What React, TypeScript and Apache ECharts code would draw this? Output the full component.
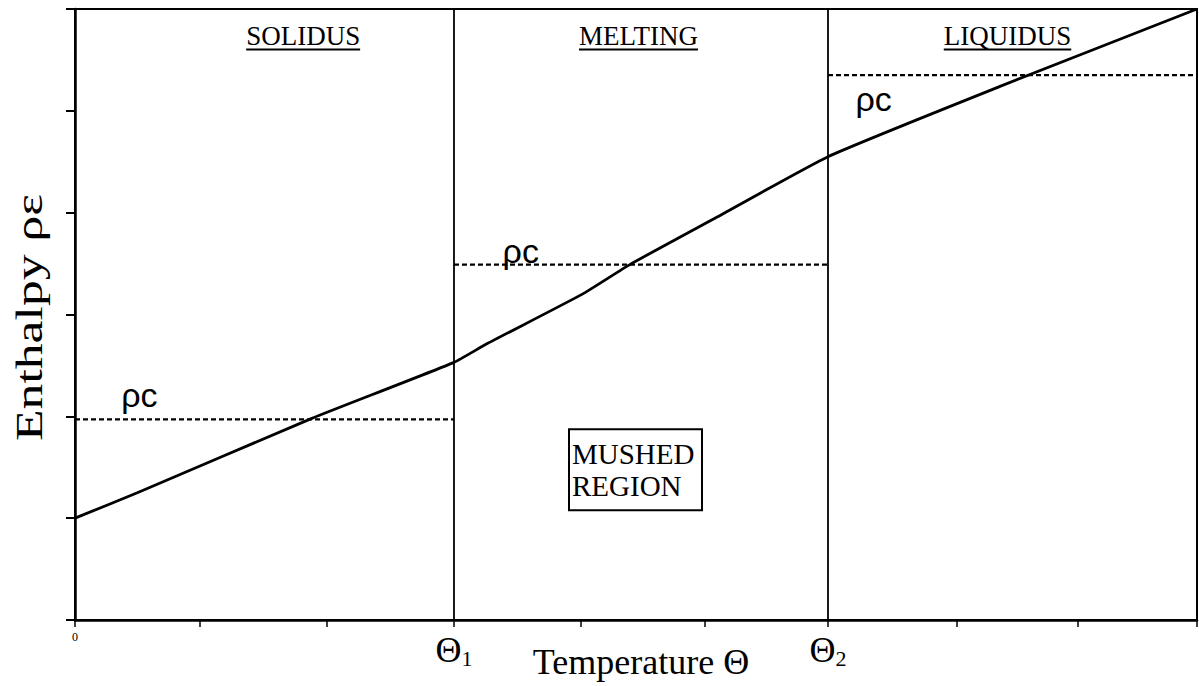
import React, { useEffect, useRef } from "react";
import * as echarts from "echarts";

// Axes (data units)
const xMin = 0, xMax = 9, yMin = 0, yMax = 6;
const theta1 = 3.04, theta2 = 6.04;
const xTickValues = [0, 1, 2.02, theta1, 4.06, 5.05, theta2, 7.07, 8.04, 9];
const xLabelValues = [0, theta1, theta2];
const xLabelTexts = ["{z|0}", "{t|Θ}{s|1}", "{t|Θ}{s|2}"];
const xAxisTitle = "Temperature Θ";
const yAxisTitle = "Enthalpy ρε";

// Enthalpy curve
const curveX = [0, 0.5, 1.9, theta1, 3.3, 4.07, 4.45, 5.14, theta2, 7.42, 9];
const curveY = [1.0, 1.25, 1.98, 2.53, 2.71, 3.2, 3.49, 3.95, 4.55, 5.24, 6.0];

// rho*c reference levels per region
const regionStart = [0, theta1, theta2];
const regionEnd = [theta1, theta2, 9];
const rhoCLevels = [1.97, 3.49, 5.35];
const rhoLabelX = [0.37, 3.43, 6.26];
const rhoLabelY = [2.21, 3.62, 5.12];

// region titles
const regionTitles = ["SOLIDUS", "MELTING", "LIQUIDUS"];
const titleX = [1.83, 4.52, 7.48];
const titleY = 5.73;

// mushed region note
const noteText = "MUSHED\nREGION";
const noteX = 4.5, noteY = 1.47;

export default function App() {
  const ref = useRef<HTMLDivElement>(null);
  useEffect(() => {
    document.body.style.margin = "0";
    const chart = echarts.init(ref.current!, null, { renderer: "svg" });
    const black = "#000";
    const serif = "'Liberation Serif', 'DejaVu Serif', serif";
    const sans = "'Liberation Sans', 'DejaVu Sans', sans-serif";

    const series: any[] = [
      {
        type: "line",
        data: curveX.map((x, i) => [x, curveY[i]]),
        showSymbol: false,
        smooth: 0.15,
        lineStyle: { color: black, width: 2.8 },
        z: 5,
      },
      ...regionStart.map((s, i) => ({
        type: "line",
        data: [[s, rhoCLevels[i]], [regionEnd[i], rhoCLevels[i]]],
        showSymbol: false,
        lineStyle: { color: black, width: 2.2, type: [5, 3] },
      })),
      ...[theta1, theta2].map((t) => ({
        type: "line",
        data: [[t, yMin], [t, yMax]],
        showSymbol: false,
        lineStyle: { color: black, width: 1.8 },
      })),
    ];

    const option: any = {
      animation: false,
      backgroundColor: "#fff",
      grid: {
        left: 75, right: 2, top: 9, bottom: 66,
        show: true, borderColor: black, borderWidth: 2,
        outerBoundsMode: "none",
        containLabel: false,
      },
      xAxis: {
        type: "value", min: xMin, max: xMax,
        splitLine: { show: false },
        axisLine: { lineStyle: { color: black, width: 2.5 } },
        axisTick: { length: 7, customValues: xTickValues, lineStyle: { color: black, width: 1.5 } },
        axisLabel: {
          margin: 11,
          customValues: xLabelValues,
          formatter: (v: number) => {
            const i = xLabelValues.findIndex((x) => Math.abs(x - v) < 1e-6);
            return i >= 0 ? xLabelTexts[i] : "";
          },
          rich: {
            z: { fontSize: 12, fontFamily: serif, color: black },
            t: { fontSize: 36, fontFamily: serif, color: black },
            s: { fontSize: 22, fontFamily: serif, color: black, padding: [16, 0, 0, 0] },
          },
        },
        name: xAxisTitle,
        nameLocation: "middle",
        nameGap: 24,
        nameMoveOverlap: false,
        nameTextStyle: { fontSize: 36, fontFamily: serif, color: black, padding: [0, 0, 0, 10] },
      },
      yAxis: {
        type: "value", min: yMin, max: yMax, interval: 1,
        splitLine: { show: false },
        axisLine: { lineStyle: { color: black, width: 2.5 } },
        axisTick: { length: 9, lineStyle: { color: black, width: 2 } },
        axisLabel: { show: false },
      },
      series,
    };
    chart.setOption(option);

    const px = (x: number, y: number) => chart.convertToPixel({ gridIndex: 0 }, [x, y]) as number[];
    const graphics: any[] = [];
    const titleFont = `27px ${serif}`;
    regionTitles.forEach((t, i) => {
      const [cx, cy] = px(titleX[i], titleY);
      graphics.push({
        type: "text",
        x: cx, y: cy,
        style: {
          text: t, fontSize: 27, fontFamily: serif, fill: black,
          align: "center", verticalAlign: "middle",
        },
      });
      const w = (echarts as any).format?.getTextRect
        ? (echarts as any).format.getTextRect(t, titleFont).width
        : t.length * 17;
      graphics.push({
        type: "line",
        shape: { x1: cx - w / 2, y1: cy + 13, x2: cx + w / 2, y2: cy + 13 },
        style: { stroke: black, lineWidth: 2 },
      });
    });
    rhoCLevels.forEach((_, i) => {
      const [lx, ly] = px(rhoLabelX[i], rhoLabelY[i]);
      graphics.push({
        type: "text",
        x: lx, y: ly,
        style: {
          text: "ρc", fontSize: 34, fontFamily: sans, fill: black,
          align: "left", verticalAlign: "middle",
        },
      });
    });
    const [nx, ny] = px(noteX, noteY);
    graphics.push({
      type: "rect",
      shape: { x: nx - 67, y: ny - 41, width: 133, height: 81 },
      style: { fill: "#fff", stroke: black, lineWidth: 2 },
    });
    graphics.push({
      type: "text",
      x: nx - 64, y: ny,
      style: {
        text: noteText, fontSize: 29, fontFamily: serif, fill: black,
        align: "left", verticalAlign: "middle", lineHeight: 32,
      },
    });
    // y-axis title (rotated, stretched along its length as in the figure)
    const [, cyTop] = px(0, yMax);
    const [, cyBot] = px(0, yMin);
    graphics.push({
      type: "text",
      x: 29, y: (cyTop + cyBot) / 2 + 3,
      rotation: Math.PI / 2,
      scaleX: 1.36,
      style: {
        text: yAxisTitle, fontSize: 38, fontFamily: serif, fill: black,
        align: "center", verticalAlign: "middle",
      },
    });
    chart.setOption({ graphic: graphics });

    return () => chart.dispose();
  }, []);
  return <div ref={ref} style={{ position: "fixed", left: 0, top: 0, width: 1199, height: 686 }} />;
}
